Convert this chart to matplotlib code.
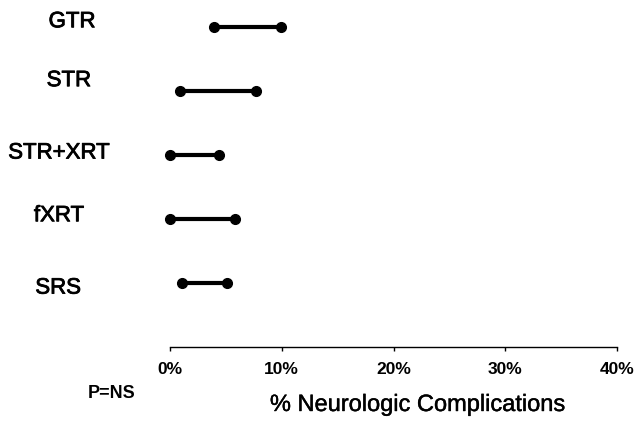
import matplotlib
matplotlib.use("Agg")
import matplotlib.pyplot as plt
import matplotlib.transforms as mtransforms
import matplotlib.patheffects as pe

# treatment groups and range of neurologic complication rates (%)
groups = ["GTR", "STR", "STR+XRT", "fXRT", "SRS"]
low = [3.9, 0.9, 0.0, 0.0, 1.1]
high = [9.9, 7.7, 4.4, 5.8, 5.1]
xticks = [0, 10, 20, 30, 40]
xticklabels = ["0%", "10%", "20%", "30%", "40%"]

# label placement (axes-fraction x, row nudge)
label_x = [-0.219, -0.226, -0.248, -0.248, -0.250]
label_dy = [0.08, 0.16, 0.03, 0.05, -0.08]

plt.rcParams['font.family'] = ['Liberation Sans', 'DejaVu Sans']

fig = plt.figure(figsize=(6.34, 4.23), dpi=100)
ax = fig.add_axes([170 / 634, 1 - 347 / 423, 447 / 634, 347 / 423])

rows = list(range(len(groups) - 1, -1, -1))
for y, lo, hi in zip(rows, low, high):
    ax.plot([lo, hi], [y, y], color='black', lw=3, marker='o', ms=7,
            solid_capstyle='butt', clip_on=False)

# labels look slightly heavier than plain regular weight
thick = [pe.withStroke(linewidth=0.6, foreground='black')]
trans = mtransforms.blended_transform_factory(ax.transAxes, ax.transData)
for y, name, lx, dy in zip(rows, groups, label_x, label_dy):
    ax.text(lx, y + dy, name, transform=trans, ha='center', va='center',
            fontsize=16, path_effects=thick)

ax.set_xlim(0, 40)
ax.set_ylim(-1.0, 4.42)
ax.set_xticks(xticks)
ax.set_xticklabels(xticklabels, fontweight='bold', fontsize=12.5)
ax.tick_params(axis='x', direction='out', length=3, width=1, pad=8)
ax.set_yticks([])
for s in ['left', 'top', 'right']:
    ax.spines[s].set_visible(False)
ax.spines['bottom'].set_linewidth(1)

fig.text(112 / 634, 1 - 393 / 423, "P=NS", ha='center', va='center',
         fontsize=13, fontweight='bold')
fig.text(418 / 634, 1 - 405 / 423, "% Neurologic Complications",
         ha='center', va='center', fontsize=17,
         path_effects=[pe.withStroke(linewidth=0.3, foreground='black')])

fig.savefig("out.png", dpi=100)
plt.close('all')
